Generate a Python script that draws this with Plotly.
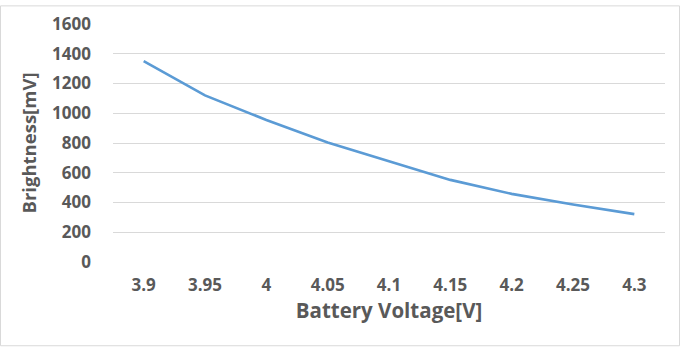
import plotly.graph_objects as go

# Brightness response over the battery voltage sweep
voltages = ["3.9", "3.95", "4", "4.05", "4.1", "4.15", "4.2", "4.25", "4.3"]
brightness_mv = [1350, 1120, 955, 803, 678, 552, 458, 386, 322]
y_ticks = [0, 200, 400, 600, 800, 1000, 1200, 1400, 1600]

W, H = 680, 348
L, R, T, B = 113, 15, 19, 86
pw, ph = W - L - R, H - T - B

text_color = "#595959"
font_family = "Open Sans, Noto Sans, sans-serif"

fig = go.Figure(
    go.Scatter(
        x=voltages,
        y=brightness_mv,
        mode="lines",
        line=dict(color="#5b9bd5", width=2.6),
        hoverinfo="skip",
    )
)

fig.update_layout(
    width=W,
    height=H,
    margin=dict(l=L, r=R, t=T, b=B),
    paper_bgcolor="white",
    plot_bgcolor="white",
    showlegend=False,
    font=dict(family=font_family, color=text_color),
    shapes=[
        dict(
            type="rect",
            xref="paper",
            yref="paper",
            x0=(0.5 - L) / pw,
            x1=(W - 0.5 - L) / pw,
            y0=-(B - 0.5) / ph,
            y1=(ph + T - 0.5) / ph,
            line=dict(color="#d9d9d9", width=1),
            layer="below",
        )
    ],
)

fig.update_xaxes(
    type="category",
    range=[-0.5, len(voltages) - 0.5],
    showgrid=False,
    showline=False,
    zeroline=False,
    ticks="",
    tickfont=dict(size=17, color=text_color, family=font_family, weight="bold"),
    ticklabelstandoff=11,
    title=dict(
        text="Battery Voltage[V]",
        font=dict(size=20.5, color=text_color, family=font_family, weight="bold"),
        standoff=7,
    ),
)

fig.update_yaxes(
    range=[0, 1600],
    tickvals=y_ticks,
    showgrid=True,
    gridcolor="#d9d9d9",
    gridwidth=1,
    zeroline=False,
    showline=False,
    ticks="",
    tickfont=dict(size=17, color=text_color, family=font_family, weight="bold"),
    ticklabelstandoff=21,
    title=dict(
        text="Brightness[mV]",
        font=dict(size=18.5, color=text_color, family=font_family, weight="bold"),
        standoff=10,
    ),
)

fig.write_html("out.html")
